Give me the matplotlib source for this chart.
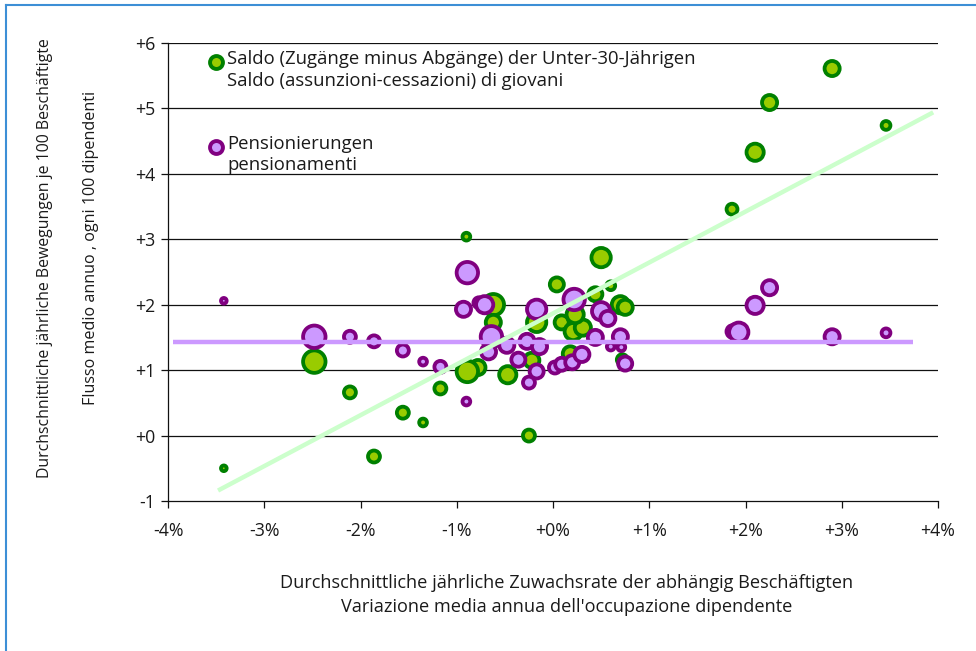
"""Bubble chart: Saldo der Unter-30-Jährigen und Pensionierungen nach Beschäftigungswachstum."""

import matplotlib
matplotlib.use("Agg")
import matplotlib.pyplot as plt
from matplotlib.lines import Line2D

plt.rcParams["font.family"] = ["Open Sans", "DejaVu Sans"]

# Saldo (Zugänge minus Abgänge) der Unter-30-Jährigen
saldo_x = [-3.42, -2.48, -2.11, -1.86, -1.56, -1.35, -1.17, -0.90, -0.78, -0.89,
           -0.62, -0.62, -0.47, -0.25, -0.17, -0.22, 0.04, 0.50, 0.60, 0.44,
           0.70, 0.75, 0.09, 0.21, 0.31, 0.23, 0.18, 0.72,
           1.86, 2.10, 2.25, 2.90, 3.46]
saldo_y = [-0.50, 1.13, 0.66, -0.32, 0.35, 0.20, 0.72, 3.04, 1.04, 0.98,
           2.00, 1.73, 0.93, 0.00, 1.73, 1.15, 2.31, 2.72, 2.29, 2.16,
           2.00, 1.96, 1.73, 1.59, 1.65, 1.85, 1.25, 1.16,
           3.46, 4.33, 5.09, 5.61, 4.74]
saldo_bubble = [4.5, 12.5, 7.5, 7.5, 7.5, 5.5, 7.5, 5.5, 9, 12,
                12, 9, 10, 7.5, 11, 9, 8.5, 11, 6, 8.5,
                10, 9, 8.5, 10, 9.5, 10, 9, 7,
                7, 10, 9, 9, 6]

# Pensionierungen
pens_x = [-3.42, -2.48, -2.11, -1.86, -1.56, -1.35, -1.17, -0.90, -0.89, -0.93,
          -0.77, -0.71, -0.64, -0.67, -0.48, -0.36, -0.27, -0.17, -0.14, -0.17,
          -0.25, 0.02, 0.09, 0.22, 0.20, 0.30, 0.44, 0.50, 0.57, 0.70,
          0.60, 0.71, 0.75, 1.87, 1.93, 2.10, 2.25, 2.90, 3.46]
pens_y = [2.06, 1.51, 1.51, 1.44, 1.30, 1.13, 1.05, 0.52, 2.49, 1.93,
          2.03, 2.00, 1.51, 1.28, 1.38, 1.16, 1.44, 1.93, 1.36, 0.98,
          0.81, 1.04, 1.09, 2.08, 1.12, 1.24, 1.50, 1.90, 1.79, 1.51,
          1.36, 1.35, 1.10, 1.59, 1.58, 1.99, 2.26, 1.51, 1.57]
pens_bubble = [4.5, 12.5, 7.5, 7.5, 7.5, 5.5, 7.5, 5.5, 12, 9,
               7, 10, 12, 9, 9, 8.5, 9, 11, 9, 8.5,
               7.5, 7.5, 8, 12, 8.5, 9, 9, 10.5, 9, 9,
               5.5, 5.5, 8.5, 8, 11, 10, 9, 9, 6]

# Trendlinien (Endpunkte)
saldo_trend_x = [-3.48, 3.95]
saldo_trend_y = [-0.84, 4.94]
pens_trend_x = [-3.95, 3.74]
pens_trend_y = [1.43, 1.43]

x_ticks = [-4, -3, -2, -1, 0, 1, 2, 3, 4]
x_tick_labels = ["-4%", "-3%", "-2%", "-1%", "+0%", "+1%", "+2%", "+3%", "+4%"]
y_ticks = [-1, 0, 1, 2, 3, 4, 5, 6]
y_tick_labels = ["-1", "+0", "+1", "+2", "+3", "+4", "+5", "+6"]

GREEN_EDGE, GREEN_FILL = "#008000", "#99cc00"
PURPLE_EDGE, PURPLE_FILL = "#800080", "#cc99ff"
TEXT = "#1a1a1a"
EDGE_PX = 3.8
PX = 0.72  # points per pixel at dpi 100


def bubble_area(radii):
    # outer radius in px -> scatter area (points^2), edge drawn centred on outline
    return [max((2.1 * r - EDGE_PX) * PX, 0.5) ** 2 for r in radii]


fig = plt.figure(figsize=(9.76, 6.51), dpi=100)
ax = fig.add_axes([168 / 976, 1 - 501 / 651, 770 / 976, 458 / 651])

for y in y_ticks[1:]:
    ax.axhline(y, color="#111111", lw=0.9, zorder=1)

ax.scatter(saldo_x, saldo_y, s=bubble_area(saldo_bubble), facecolor=GREEN_FILL,
           edgecolor=GREEN_EDGE, linewidth=EDGE_PX * PX, zorder=3)
ax.scatter(pens_x, pens_y, s=bubble_area(pens_bubble), facecolor=PURPLE_FILL,
           edgecolor=PURPLE_EDGE, linewidth=EDGE_PX * PX, zorder=4)
ax.plot(pens_trend_x, pens_trend_y, color=PURPLE_FILL, lw=3.2, zorder=5,
        solid_capstyle="butt")
ax.plot(saldo_trend_x, saldo_trend_y, color="#ccffcc", lw=3.2, zorder=6,
        solid_capstyle="butt")

ax.set_xlim(-4, 4)
ax.set_ylim(-1, 6)
ax.set_xticks(x_ticks)
ax.set_xticklabels(x_tick_labels)
ax.set_yticks(y_ticks)
ax.set_yticklabels(y_tick_labels)
ax.tick_params(axis="both", direction="out", length=5, width=0.9,
               color="#111111", labelsize=12.8, labelcolor=TEXT)
ax.tick_params(axis="x", pad=10)
ax.tick_params(axis="y", pad=4)
for side in ("top", "right"):
    ax.spines[side].set_visible(False)
for side in ("left", "bottom"):
    ax.spines[side].set_linewidth(0.9)
    ax.spines[side].set_color("#111111")

# legend drawn by hand: marker next to the first line of each two-line label
legend = [
    (62, GREEN_FILL, GREEN_EDGE,
     "Saldo (Zugänge minus Abgänge) der Unter-30-Jährigen\nSaldo (assunzioni-cessazioni) di giovani"),
    (147, PURPLE_FILL, PURPLE_EDGE, "Pensionierungen\npensionamenti"),
]
for ypx, fc, ec, label in legend:
    fig.add_artist(Line2D([216 / 976], [1 - ypx / 651], marker="o", markersize=9.3,
                          markerfacecolor=fc, markeredgecolor=ec,
                          markeredgewidth=2.8, linestyle="none"))
    fig.text(227 / 976, 1 - (ypx - 12) / 651, label, fontsize=13.3,
             color=TEXT, va="top", ha="left", linespacing=1.25)

fig.text(45 / 976, 1 - 258 / 651,
         "Durchschnittliche jährliche Bewegungen je 100 Beschäftigte",
         rotation=90, ha="center", va="center", fontsize=11.4, color=TEXT)
fig.text(91 / 976, 1 - 248 / 651, "Flusso medio annuo , ogni 100 dipendenti",
         rotation=90, ha="center", va="center", fontsize=11.6, color=TEXT)
fig.text(567 / 976, 1 - 583 / 651,
         "Durchschnittliche jährliche Zuwachsrate der abhängig Beschäftigten",
         ha="center", va="center", fontsize=13.1, color=TEXT)
fig.text(567 / 976, 1 - 607 / 651,
         "Variazione media annua dell'occupazione dipendente",
         ha="center", va="center", fontsize=13.1, color=TEXT)

# blue frame on the left and top edges
fig.add_artist(Line2D([5.5 / 976, 5.5 / 976], [0, 1 - 4.5 / 651], color="#3d8fd6", lw=1.5))
fig.add_artist(Line2D([5.5 / 976, 1], [1 - 4.5 / 651, 1 - 4.5 / 651], color="#3d8fd6", lw=1.5))

fig.savefig("out.png", dpi=100)
